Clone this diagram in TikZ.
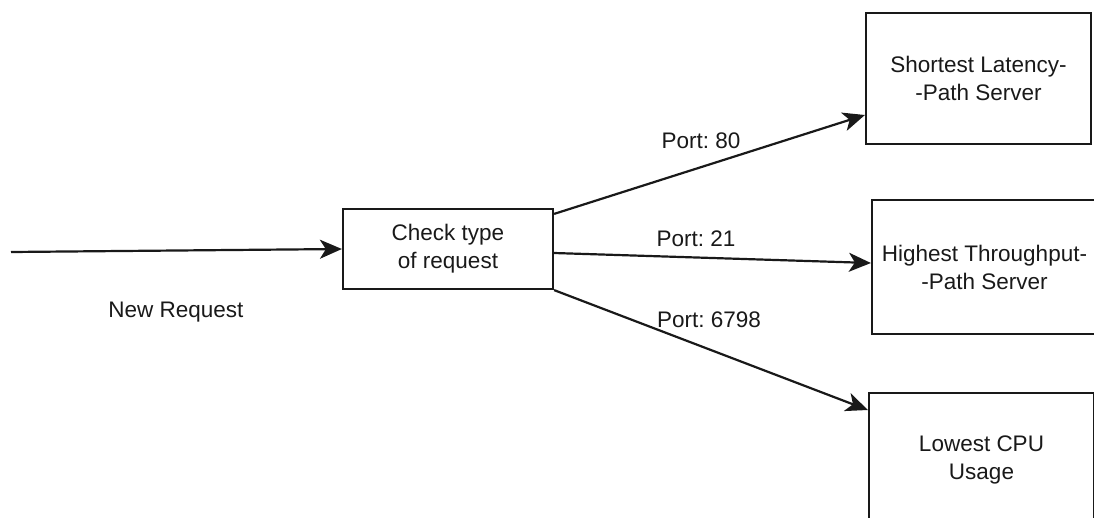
\documentclass[tikz,border=0pt]{standalone}
\usepackage{fontspec}
\setmainfont{Liberation Sans}
\usetikzlibrary{arrows.meta}
\frenchspacing
\begin{document}
\begin{tikzpicture}[x=1pt,y=-1pt,
  every node/.style={font=\fontsize{22.5}{28}\selectfont, text=black!90},
  box/.style={draw=black!90, line width=2.2pt, rectangle, inner sep=0pt, align=center},
  flow/.style={draw=black!90, line width=2.2pt, -{Stealth[length=22pt,width=19pt,inset=6pt]}},
  portlabel/.style={anchor=base}
]
\useasboundingbox (0,0) rectangle (1094,517);
\clip (0,0) rectangle (1094,517);

% processing step and the three target servers
\node[box, minimum width=210pt, minimum height=80pt] (check) at (448,249) {Check type\\of request};
\node[box, minimum width=225pt, minimum height=131pt] (latency) at (978.5,78.5) {Shortest Latency-\\-Path Server};
\node[box, minimum width=225pt, minimum height=134pt] (throughput) at (984.5,267) {Highest Throughput-\\-Path Server};
\node[box, minimum width=225pt, minimum height=134pt] (cpu) at (981.5,460) {Lowest CPU\\Usage};

% incoming request
\coordinate (src) at (11,252);
\draw[flow] (src) -- (check.west);
\node[portlabel] (newreq) at (176,317) {New Request};

% routing by port
\draw[flow] ([yshift=-6pt]check.north east) -- ([yshift=-36.5pt]latency.west);
\draw[flow] ([yshift=-4pt]check.east) -- ([yshift=4pt]throughput.west);
\draw[flow] (check.south east) -- ([yshift=50pt]cpu.west);

\node[portlabel] (p80) at (701,148) {Port: 80};
\node[portlabel] (p21) at (696,246) {Port: 21};
\node[portlabel] (p6798) at (709,327) {Port: 6798};
\end{tikzpicture}
\end{document}
